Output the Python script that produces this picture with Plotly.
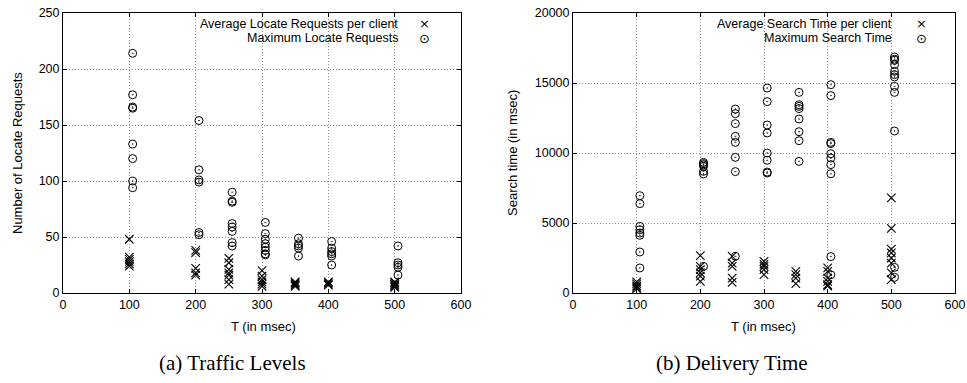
import plotly.graph_objects as go

# ---------------- data ----------------
# (a) Traffic Levels
T_values = [100, 200, 250, 300, 350, 400, 500]
circle_offset = 5  # circles drawn slightly right of the T value

avg_locate = {
    100: [48, 32, 30, 28, 26, 24],
    200: [38, 36, 22, 18, 16],
    250: [31, 27, 21, 18, 16, 12, 8],
    300: [20, 15, 12, 10, 8, 6],
    350: [10, 9, 8, 7, 6],
    400: [10, 9, 8, 7],
    500: [10, 9, 8, 7, 6, 5],
}
max_locate = {
    100: [214, 177, 166, 165, 133, 120, 100, 94],
    200: [154, 110, 101, 99, 54, 52],
    250: [90, 82, 81, 62, 59, 55, 45, 42],
    300: [63, 53, 48, 44, 41, 38, 35, 34],
    350: [49, 44, 42, 40, 33],
    400: [46, 40, 37, 35, 33, 25],
    500: [42, 27, 25, 23, 16],
}

# (b) Delivery Time
avg_search = {
    100: [800, 650, 500, 400, 300],
    200: [2670, 1900, 1670, 1430, 1200, 830],
    250: [2620, 2140, 1900, 1070, 760],
    300: [2260, 2050, 1900, 1670, 1310],
    350: [1550, 1310, 1070, 670],
    400: [1790, 1550, 1070, 830, 600, 500],
    500: [6790, 4620, 3140, 2860, 2500, 2140, 1430, 950],
}
max_search = {
    100: [6950, 6380, 4760, 4520, 4290, 4120, 2930, 1790],
    200: [9330, 9240, 9150, 9050, 8690, 8500, 1900],
    250: [13140, 12810, 12100, 11190, 10760, 9690, 8670, 2620],
    300: [14640, 13670, 12000, 11430, 10000, 9480, 8640, 8570],
    350: [14330, 13450, 13330, 13170, 12430, 11520, 10880, 9400],
    400: [14880, 14100, 10760, 10670, 9950, 9640, 9170, 8520, 2600, 1300],
    500: [16860, 16700, 16620, 16310, 15830, 15600, 15430, 14760, 14330, 11570, 1830, 1120],
}

x_ticks = [0, 100, 200, 300, 400, 500, 600]
y_ticks_a = [0, 50, 100, 150, 200, 250]
y_ticks_b = [0, 5000, 10000, 15000, 20000]

legend_a = ["Average Locate Requests per client", "Maximum Locate Requests"]
legend_b = ["Average Search Time per client", "Maximum Search Time"]
captions = ["(a) Traffic Levels", "(b) Delivery Time"]
ytitles = ["Number of Locate Requests", "Search time (in msec)"]
xtitle = "T (in msec)"


def flatten(d, offset=0):
    xs, ys = [], []
    for t in T_values:
        for v in d[t]:
            xs.append(t + offset)
            ys.append(v)
    return xs, ys


fig = go.Figure()

x_style = dict(symbol="x-thin-open", size=8.5, color="black", line=dict(color="black", width=1.1))
o_style = dict(symbol="circle-open-dot", size=8, color="black", line=dict(color="black", width=1))

for d_avg, d_max, xa, ya in [(avg_locate, max_locate, "x", "y"), (avg_search, max_search, "x2", "y2")]:
    xs, ys = flatten(d_avg)
    fig.add_trace(go.Scatter(x=xs, y=ys, mode="markers", marker=x_style, xaxis=xa, yaxis=ya, showlegend=False))
    xs, ys = flatten(d_max, circle_offset)
    fig.add_trace(go.Scatter(x=xs, y=ys, mode="markers", marker=o_style, xaxis=xa, yaxis=ya, showlegend=False))

W, H = 967, 383
yd = [(H - 293) / H, (H - 13) / H]
dom1 = [63 / W, 461 / W]
dom2 = [573 / W, 955 / W]

axis_common = dict(
    showline=True, linecolor="black", linewidth=1, mirror="ticks",
    ticks="inside", ticklen=4, tickcolor="black",
    showgrid=True, gridcolor="#8c8c8c", griddash="1px,2px", gridwidth=1,
    zeroline=False, automargin=False, tickformat="d",
    tickfont=dict(family="Liberation Sans, Arial", size=12.5, color="black"),
)

fig.update_layout(
    width=W, height=H,
    margin=dict(l=0, r=0, t=0, b=0, autoexpand=False),
    paper_bgcolor="white", plot_bgcolor="white",
    showlegend=False,
    xaxis=dict(domain=dom1, anchor="y", range=[0, 600], tickvals=x_ticks, **axis_common),
    yaxis=dict(domain=yd, anchor="x", range=[0, 250], tickvals=y_ticks_a, **axis_common),
    xaxis2=dict(domain=dom2, anchor="y2", range=[0, 600], tickvals=x_ticks, **axis_common),
    yaxis2=dict(domain=yd, anchor="x2", range=[0, 20000], tickvals=y_ticks_b, **axis_common),
)

sans = dict(family="Liberation Sans, Arial", size=13, color="black")
leg_font = dict(family="Liberation Sans, Arial", size=12.5, color="black")
serif = dict(family="Liberation Serif, Times New Roman", size=21, color="black")

ann = []
# axis titles
for cx, label in [(263, xtitle), (763, xtitle)]:
    ann.append(dict(x=cx / W, y=(H - 326) / H, xref="paper", yref="paper", text=label, showarrow=False,
                    font=sans, xanchor="center", yanchor="middle"))
for px, label in [(17, ytitles[0]), (512, ytitles[1])]:
    ann.append(dict(x=px / W, y=(yd[0] + yd[1]) / 2, xref="paper", yref="paper", text=label, showarrow=False,
                    font=sans, textangle=-90, xanchor="center", yanchor="middle"))
# captions
for cx, label in [(232, captions[0]), (732, captions[1])]:
    ann.append(dict(x=cx / W, y=(H - 363) / H, xref="paper", yref="paper", text=label, showarrow=False,
                    font=serif, xanchor="center", yanchor="middle"))
# custom legends (text right-aligned, symbol to the right)
for labels, text_right, sym_x in [(legend_a, 400, 424), (legend_b, 894, 921)]:
    for i, (lab, sym) in enumerate(zip(labels, ["\u00d7", "\u2299"])):
        yy = (H - (24 + 14 * i)) / H
        ann.append(dict(x=text_right / W, y=yy, xref="paper", yref="paper", text=lab, showarrow=False,
                        font=leg_font, xanchor="right", yanchor="middle"))
        ann.append(dict(x=sym_x / W, y=yy, xref="paper", yref="paper", text=sym, showarrow=False,
                        font=dict(family="DejaVu Sans", size=13, color="black"), xanchor="center", yanchor="middle"))
fig.update_layout(annotations=ann)

fig.write_html("out.html", config={"displayModeBar": False},
               post_script="document.body.style.margin='0px';")
